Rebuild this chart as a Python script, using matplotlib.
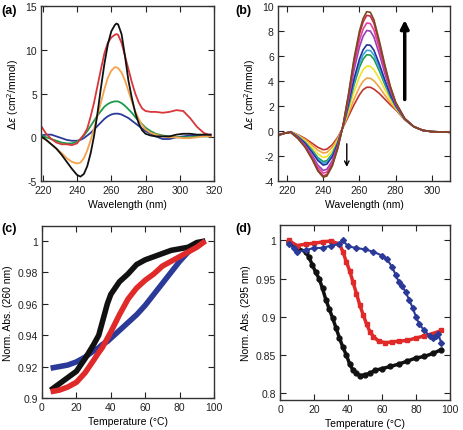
import numpy as np
import matplotlib
matplotlib.use('Agg')
import matplotlib.pyplot as plt

plt.rcParams['font.family'] = ['Liberation Sans', 'DejaVu Sans']
plt.rcParams['font.size'] = 7
plt.rcParams['axes.unicode_minus'] = False
plt.rcParams['mathtext.fontset'] = 'dejavusans'

# ---- panel (a): CD spectra ----
wl_a = [219, 222, 225, 228, 231, 234, 237, 240, 242, 244, 246, 248, 250, 252, 254,
        256, 258, 260, 262, 263, 264, 266, 268, 270, 272, 274, 276, 278, 280, 283,
        286, 290, 294, 298, 302, 306, 310, 314, 318]
a_black = [0.1, -0.3, -0.8, -1.3, -2.0, -2.8, -3.6, -4.3, -4.5, -4.2, -3.3, -1.8, 0.2, 2.8, 5.7,
           8.4, 10.6, 12.1, 12.8, 13.0, 12.9, 11.8, 9.3, 6.5, 4.5, 2.8, 1.6, 0.8, 0.4, 0.2,
           0.1, 0.1, 0.1, 0.3, 0.4, 0.4, 0.3, 0.3, 0.3]
a_red = [1.3, 0.4, -0.2, -0.6, -0.8, -0.8, -0.9, -0.7, -0.2, 0.3, 1.0, 2.4, 4.0, 5.9, 7.8,
         9.6, 10.8, 11.4, 11.7, 11.8, 11.7, 10.8, 9.3, 7.8, 6.3, 5.0, 4.0, 3.3, 3.0, 2.9,
         2.9, 2.8, 2.9, 3.1, 3.0, 2.2, 1.2, 0.5, 0.2]
a_orange = [0.0, -0.3, -0.8, -1.3, -1.8, -2.4, -2.8, -3.0, -2.9, -2.4, -1.5, -0.3, 1.0, 2.5, 4.0,
            5.5, 6.8, 7.6, 8.0, 8.0, 7.9, 7.4, 6.5, 5.3, 4.1, 3.0, 2.1, 1.4, 0.9, 0.5,
            0.3, 0.1, 0.0, 0.0, -0.1, -0.1, 0.0, 0.1, 0.1]
a_green = [0.2, 0.0, -0.2, -0.4, -0.6, -0.7, -0.7, -0.5, -0.2, 0.2, 0.7, 1.3, 1.9, 2.5, 3.0,
           3.5, 3.8, 4.0, 4.1, 4.1, 4.1, 3.9, 3.6, 3.2, 2.8, 2.3, 1.9, 1.5, 1.1, 0.7,
           0.4, 0.2, 0.1, 0.0, 0.0, 0.0, 0.1, 0.1, 0.1]
a_blue = [0.2, 0.3, 0.3, 0.1, -0.1, -0.3, -0.4, -0.4, -0.3, -0.1, 0.2, 0.5, 0.9, 1.3, 1.7,
          2.1, 2.4, 2.6, 2.7, 2.7, 2.7, 2.6, 2.4, 2.2, 1.9, 1.6, 1.3, 1.0, 0.7, 0.4,
          0.1, -0.2, -0.2, 0.0, 0.1, 0.2, 0.2, 0.2, 0.3]
a_series = [a_black, a_red, a_orange, a_green, a_blue]
a_colors = ['#111111', '#d9363a', '#f4a24c', '#1d9a4a', '#2b3a99']

# ---- panel (b): titration spectra ----
wl_b = [215, 218, 222, 226, 230, 234, 237, 240, 242, 245, 248, 251, 254, 257, 260,
        262, 264, 266, 268, 271, 274, 277, 280, 285, 290, 295, 300, 310]
b_curves = [
    [-0.40, -0.20, -0.05, -0.30, -0.60, -1.00, -1.30, -1.50, -1.45, -1.10, -0.50, 0.30, 1.20, 2.10, 2.90,
     3.30, 3.50, 3.50, 3.35, 3.00, 2.55, 2.10, 1.70, 0.90, 0.35, 0.05, -0.05, -0.10],
    [-0.39, -0.20, -0.06, -0.34, -0.68, -1.16, -1.53, -1.76, -1.71, -1.30, -0.61, 0.32, 1.42, 2.54, 3.51,
     3.98, 4.23, 4.22, 4.02, 3.50, 2.88, 2.28, 1.77, 0.91, 0.35, 0.05, -0.05, -0.10],
    [-0.37, -0.20, -0.06, -0.38, -0.80, -1.36, -1.83, -2.12, -2.05, -1.58, -0.75, 0.36, 1.70, 3.14, 4.33,
     4.90, 5.19, 5.18, 4.90, 4.18, 3.32, 2.52, 1.87, 0.93, 0.35, 0.05, -0.05, -0.10],
    [-0.36, -0.20, -0.07, -0.43, -0.90, -1.56, -2.12, -2.45, -2.37, -1.83, -0.89, 0.39, 1.97, 3.69, 5.09,
     5.75, 6.10, 6.08, 5.74, 4.81, 3.73, 2.75, 1.96, 0.94, 0.35, 0.05, -0.05, -0.10],
    [-0.35, -0.20, -0.07, -0.45, -0.94, -1.64, -2.23, -2.58, -2.50, -1.93, -0.94, 0.40, 2.08, 3.91, 5.40,
     6.09, 6.46, 6.44, 6.07, 5.06, 3.90, 2.84, 1.99, 0.95, 0.35, 0.05, -0.05, -0.10],
    [-0.34, -0.20, -0.08, -0.47, -0.99, -1.73, -2.36, -2.73, -2.65, -2.05, -1.00, 0.41, 2.21, 4.17, 5.76,
     6.49, 6.89, 6.86, 6.46, 5.35, 4.09, 2.94, 2.04, 0.96, 0.35, 0.05, -0.05, -0.10],
    [-0.33, -0.20, -0.09, -0.53, -1.13, -1.98, -2.73, -3.15, -3.06, -2.38, -1.18, 0.45, 2.55, 4.88, 6.73,
     7.58, 8.04, 8.00, 7.51, 6.15, 4.61, 3.23, 2.15, 0.98, 0.35, 0.05, -0.05, -0.10],
    [-0.32, -0.20, -0.09, -0.56, -1.20, -2.11, -2.92, -3.37, -3.28, -2.55, -1.27, 0.47, 2.73, 5.25, 7.24,
     8.15, 8.64, 8.60, 8.07, 6.57, 4.89, 3.38, 2.21, 0.99, 0.35, 0.05, -0.05, -0.10],
    [-0.31, -0.20, -0.10, -0.59, -1.27, -2.24, -3.11, -3.59, -3.49, -2.72, -1.36, 0.49, 2.91, 5.62, 7.75,
     8.72, 9.25, 9.20, 8.62, 6.99, 5.16, 3.53, 2.27, 1.00, 0.35, 0.05, -0.05, -0.10],
    [-0.30, -0.20, -0.10, -0.60, -1.30, -2.30, -3.20, -3.70, -3.60, -2.80, -1.40, 0.50, 3.00, 5.80, 8.00,
     9.00, 9.55, 9.50, 8.90, 7.20, 5.30, 3.60, 2.30, 1.00, 0.35, 0.05, -0.05, -0.10],
]
b_colors = ['#c0342e', '#f2a444', '#f2e22a', '#1f9a48', '#3aa6df', '#23329a',
            '#9640b8', '#e0449e', '#c8284a', '#7a4a22']

# ---- panel (c): melting at 260 nm ----
t_c = [5, 10, 15, 20, 25, 30, 33, 35, 38, 40, 45, 50, 55, 60, 65, 70, 75, 80, 85, 90, 95]
c_black = [0.905, 0.909, 0.913, 0.917, 0.925, 0.934, 0.940, 0.948, 0.960, 0.966, 0.974, 0.979,
           0.985, 0.988, 0.990, 0.992, 0.994, 0.995, 0.996, 0.999, 1.000]
c_red = [0.904, 0.905, 0.907, 0.910, 0.916, 0.924, 0.929, 0.932, 0.938, 0.942, 0.953, 0.963,
         0.970, 0.975, 0.979, 0.984, 0.987, 0.990, 0.993, 0.996, 1.000]
c_blue = [0.919, 0.920, 0.921, 0.923, 0.926, 0.930, 0.932, 0.934, 0.936, 0.938, 0.943, 0.948,
          0.953, 0.959, 0.966, 0.973, 0.980, 0.987, 0.993, 0.998, 1.000]

# ---- panel (d): melting at 295 nm ----
t_d_black = [5, 10, 15, 17, 19, 21, 23, 25, 27, 29, 31, 33, 35, 37, 39, 41, 43, 45, 47, 50,
             53, 56, 60, 65, 70, 75, 80, 85, 90, 95]
d_black = [0.998, 0.990, 0.985, 0.978, 0.968, 0.958, 0.950, 0.937, 0.922, 0.910, 0.898, 0.885,
           0.872, 0.860, 0.850, 0.838, 0.830, 0.826, 0.823, 0.824, 0.826, 0.830, 0.832, 0.835,
           0.838, 0.842, 0.846, 0.848, 0.852, 0.857]
t_d_red = [5, 10, 15, 20, 25, 30, 35, 37, 39, 41, 43, 45, 47, 49, 51, 53, 55, 58, 62, 66,
           70, 75, 80, 85, 90, 95]
d_red = [1.000, 0.993, 0.995, 0.996, 0.998, 0.999, 0.995, 0.985, 0.972, 0.960, 0.945, 0.930,
         0.915, 0.902, 0.890, 0.880, 0.874, 0.868, 0.866, 0.867, 0.868, 0.869, 0.872, 0.875,
         0.878, 0.882]
t_d_blue = [5, 8, 10, 15, 20, 25, 30, 35, 37, 40, 45, 50, 55, 60, 63, 66, 68, 70, 72, 74,
            76, 78, 80, 82, 85, 88, 90, 92, 93, 95]
d_blue = [0.995, 0.990, 0.985, 0.987, 0.990, 0.990, 0.993, 0.995, 1.000, 0.992, 0.990, 0.988,
          0.985, 0.980, 0.975, 0.965, 0.955, 0.945, 0.940, 0.932, 0.922, 0.912, 0.900, 0.890,
          0.882, 0.875, 0.872, 0.875, 0.878, 0.865]


def style_axes(ax):
    ax.tick_params(direction='in', top=True, right=True, length=4, width=0.8,
                   labelsize=7.5, pad=3, colors='#222222')
    for s in ax.spines.values():
        s.set_linewidth(1.0)
        s.set_color('#333333')


fig = plt.figure(figsize=(4.63, 4.31), dpi=100)
ylab_cd = r'$\Delta\varepsilon$ (cm$^2$/mmol)'

# (a)
ax = fig.add_axes([0.0886, 0.5777, 0.3737, 0.406])
for ys, c in zip(a_series[::-1], a_colors[::-1]):
    ax.plot(wl_a, ys, color=c, lw=1.3)
ax.set_xlim(219, 320)
ax.set_ylim(-5, 15)
ax.set_xticks([220, 240, 260, 280, 300, 320])
ax.set_yticks([-5, 0, 5, 10, 15])
ax.set_xlabel('Wavelength (nm)', fontsize=7.5, labelpad=3)
ax.set_ylabel(ylab_cd, fontsize=7.5, labelpad=3)
style_axes(ax)

# (b)
ax = fig.add_axes([0.6004, 0.5777, 0.3715, 0.406])
for ys, c in zip(b_curves, b_colors):
    ax.plot(wl_b, ys, color=c, lw=1.2)
ax.annotate('', xy=(285, 9.1), xytext=(285, 2.3),
            arrowprops=dict(arrowstyle='-|>', lw=2.5, color='black', mutation_scale=12))
ax.annotate('', xy=(253, -3.1), xytext=(253, -0.8),
            arrowprops=dict(arrowstyle='->', lw=1.0, color='black', mutation_scale=8))
ax.set_xlim(215, 310)
ax.set_ylim(-4, 10)
ax.set_xticks([220, 240, 260, 280, 300])
ax.set_yticks([-4, -2, 0, 2, 4, 6, 8, 10])
ax.set_xlabel('Wavelength (nm)', fontsize=7.5, labelpad=3)
ax.set_ylabel(ylab_cd, fontsize=7.5, labelpad=3)
style_axes(ax)

# (c)
ax = fig.add_axes([0.0907, 0.0742, 0.3715, 0.399])
for tt, ys, c in [(t_c, c_blue, '#2b3a99'), (t_c, c_black, '#111111'), (t_c, c_red, '#e02a2a')]:
    ax.plot(tt, ys, color=c, lw=4.0, solid_capstyle='butt')
ax.set_xlim(0, 100)
ax.set_ylim(0.9, 1.0095)
ax.set_xticks([0, 20, 40, 60, 80, 100])
ax.set_yticks([0.9, 0.92, 0.94, 0.96, 0.98, 1.0])
ax.set_yticklabels(['0.9', '0.92', '0.94', '0.96', '0.98', '1'])
ax.set_xlabel('Temperature (°C)', fontsize=7.5, labelpad=3)
ax.set_ylabel('Norm. Abs. (260 nm)', fontsize=7.5, labelpad=3)
style_axes(ax)

# (d)
ax = fig.add_axes([0.6048, 0.0696, 0.367, 0.406])
ax.plot(t_d_black, d_black, color='#111111', lw=2.5, marker='o', ms=3.5)
ax.plot(t_d_red, d_red, color='#e02a2a', lw=2.5, marker='s', ms=3.5)
ax.plot(t_d_blue, d_blue, color='#2b3a99', lw=1.5, marker='D', ms=3)
ax.set_xlim(0, 100)
ax.set_ylim(0.791, 1.02)
ax.set_xticks([0, 20, 40, 60, 80, 100])
ax.set_yticks([0.8, 0.85, 0.9, 0.95, 1.0])
ax.set_yticklabels(['0.8', '0.85', '0.9', '0.95', '1'])
ax.set_xlabel('Temperature (°C)', fontsize=7.5, labelpad=3)
ax.set_ylabel('Norm. Abs. (295 nm)', fontsize=7.5, labelpad=3)
style_axes(ax)

for lab, x, y in [('(a)', 0.004, 0.975), ('(b)', 0.508, 0.975),
                  ('(c)', 0.004, 0.468), ('(d)', 0.508, 0.468)]:
    fig.text(x, y, lab, fontsize=9, fontweight='bold', va='center', ha='left')

fig.savefig('out.png', dpi=100)
